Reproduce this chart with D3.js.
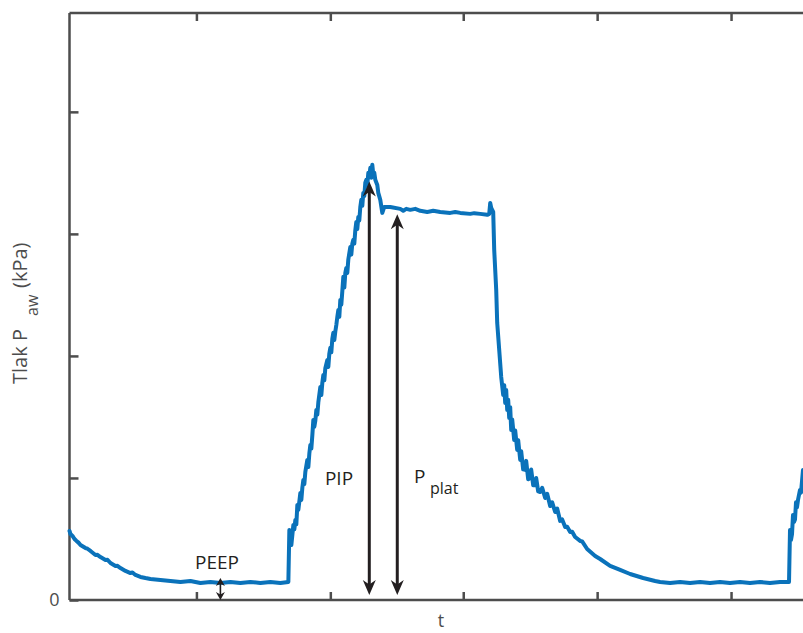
<!DOCTYPE html>
<html>
<head>
<meta charset="utf-8">
<script src="https://cdn.jsdelivr.net/npm/d3@7"></script>
<style>
  body { margin: 0; background: #fff; }
  svg { display: block; font-family: "Open Sans", "Noto Sans", sans-serif; }
</style>
</head>
<body>
<svg width="803" height="633"></svg>
<script>
// airway pressure trace, [sample, kPa]
var exhaleStart = [[0,0.566],[1,0.54],[3,0.525],[5,0.50],[7,0.484],[9,0.47],[11,0.451],[16,0.426],[18,0.42],[21,0.402],[26,0.369],[28,0.37],[31,0.352],[36,0.328],[38,0.33],[41,0.303],[46,0.279],[48,0.28],[51,0.262],[56,0.238],[61,0.221],[63,0.225],[66,0.205],[71,0.189],[76,0.180],[81,0.172],[91,0.164],[101,0.156],[111,0.148],[121,0.156],[131,0.139],[141,0.148],[151,0.139],[161,0.148],[171,0.139],[181,0.148],[191,0.139],[201,0.148],[211,0.139],[219,0.148]];
var inspiration = [[220,0.574],[221,0.492],[222,0.451],[224,0.615],[225,0.58],[226,0.656],[227,0.62],[228,0.779],[229,0.74],[231,0.877],[232,0.82],[233,0.92],[234,0.984],[235,0.95],[236,1.05],[238,1.148],[239,1.09],[240,1.20],[241,1.270],[242,1.24],[243,1.35],[244,1.475],[245,1.42],[246,1.47],[247,1.557],[248,1.52],[249,1.62],[251,1.746],[252,1.68],[253,1.78],[254,1.844],[255,1.80],[256,1.90],[258,1.967],[259,1.91],[260,2.02],[261,2.066],[262,2.03],[263,2.14],[264,2.189],[265,2.13],[266,2.20],[267,2.254],[268,2.32],[269,2.377],[270,2.32],[271,2.459],[272,2.42],[273,2.53],[274,2.648],[275,2.56],[276,2.68],[277,2.721],[278,2.68],[279,2.79],[281,2.893],[282,2.83],[283,2.92],[284,2.951],[285,2.92],[286,3.03],[287,3.098],[288,3.04],[289,3.139],[290,3.11],[291,3.22],[292,3.279],[293,3.23],[294,3.336],[295,3.31],[296,3.42],[297,3.443],[298,3.40],[299,3.500],[300,3.47],[301,3.541],[302,3.46],[303,3.566],[304,3.484],[305,3.50],[306,3.443],[308,3.40],[309,3.336],[311,3.279],[313,3.172]];
var plateau = [[315,3.221],[321,3.221],[331,3.205],[334,3.19],[337,3.205],[341,3.197],[346,3.205],[351,3.189],[358,3.180],[364,3.189],[371,3.180],[381,3.172],[386,3.18],[391,3.172],[401,3.164],[405,3.17],[411,3.164],[418,3.156],[420,3.164],[421,3.254],[422,3.213],[424,3.180]];
var exhalation = [[425,2.869],[427,2.541],[428,2.270],[430,2.049],[432,1.828],[434,1.680],[435,1.76],[436,1.615],[437,1.72],[438,1.557],[439,1.64],[440,1.492],[441,1.58],[442,1.393],[443,1.48],[445,1.311],[446,1.39],[448,1.230],[449,1.31],[451,1.148],[452,1.22],[454,1.07],[456,1.066],[457,1.14],[459,0.99],[461,1.000],[462,1.07],[464,0.94],[466,0.943],[467,1.00],[469,0.89],[471,0.885],[473,0.92],[476,0.836],[478,0.87],[481,0.770],[483,0.80],[486,0.721],[488,0.75],[491,0.648],[493,0.66],[496,0.598],[498,0.60],[501,0.557],[503,0.56],[506,0.516],[511,0.484],[513,0.48],[518,0.418],[526,0.361],[531,0.336],[541,0.279],[551,0.246],[561,0.213],[574,0.180],[586,0.156],[591,0.148],[601,0.139],[611,0.148],[621,0.139],[631,0.148],[641,0.139],[651,0.148],[661,0.139],[671,0.148],[681,0.139],[691,0.148],[701,0.139],[711,0.148],[720,0.148]];
var inspiration2 = [[721,0.574],[722,0.492],[723,0.54],[724,0.697],[725,0.64],[726,0.66],[727,0.80],[728,0.76],[729,0.820],[731,0.902],[732,0.88],[734,1.066]];

var xTicks = [127, 261, 394, 528, 662];
var yTicks = [0, 1, 2, 3, 4];
var yTickLabels = ["0", "", "", "", ""];

// arrows: sample, from kPa, to kPa
var arrowSample = [151, 300, 328];
var arrowFrom = [0, 0.04, 0.04];
var arrowTo = [0.18, 3.43, 3.16];

var svg = d3.select("svg");

var x = d3.scaleLinear().domain([0, 734]).range([69.5, 803]);
var y = d3.scaleLinear().domain([0, 4.81]).range([600, 13]);

var axisColor = "#4d4d4d";

// axes (box has no right side in view)
var gLeft = svg.append("g").attr("transform", "translate(69.5,0)")
	.call(d3.axisLeft(y).tickValues(yTicks).tickSizeInner(-9).tickSizeOuter(0).tickPadding(10)
		.tickFormat(function (d, i) { return yTickLabels[i]; }));
var gBottom = svg.append("g").attr("transform", "translate(0,600)")
	.call(d3.axisBottom(x).tickValues(xTicks).tickSizeInner(-8).tickSizeOuter(0).tickFormat(""));
var gTop = svg.append("g").attr("transform", "translate(0,13)")
	.call(d3.axisTop(x).tickValues(xTicks).tickSizeInner(-8).tickSizeOuter(0).tickFormat(""));

[gLeft, gBottom, gTop].forEach(function (g) {
	g.selectAll("path, line").attr("stroke", axisColor).attr("stroke-width", 2.5);
	g.selectAll("text").attr("fill", axisColor).style("font-size", "18px")
		.style("font-family", "'Open Sans', sans-serif");
});
gLeft.select("path").attr("d", "M0,600V13"); // left line
gBottom.select("path").attr("d", "M69.5,0H803");
gTop.select("path").attr("d", "M69.5,0H803");

// pressure trace
var trace = [].concat(exhaleStart, inspiration, plateau, exhalation, inspiration2);
var line = d3.line().x(function (d) { return x(d[0]); }).y(function (d) { return y(d[1]); });

svg.append("path")
	.datum(trace)
	.attr("d", line)
	.attr("fill", "none")
	.attr("stroke", "#0a72ba")
	.attr("stroke-width", 4)
	.attr("stroke-linejoin", "round")
	.attr("stroke-linecap", "round");

// double headed arrows
var arrowColor = "#231f20";
function head(cx, tipY, dir, len, half) {
	// dir = -1 pointing up, 1 pointing down
	var b = tipY - dir * len;
	var n = tipY - dir * len * 0.7;
	return "M" + cx + "," + tipY + "L" + (cx - half) + "," + b + "L" + cx + "," + n +
		"L" + (cx + half) + "," + b + "Z";
}
arrowSample.forEach(function (s, i) {
	var cx = x(s), y0 = y(arrowFrom[i]), y1 = y(arrowTo[i]);
	var small = i === 0;
	var len = small ? 8 : 15, half = small ? 4.5 : 6.5;
	svg.append("line")
		.attr("x1", cx).attr("x2", cx)
		.attr("y1", y0 - len * 0.6).attr("y2", y1 + len * 0.6)
		.attr("stroke", arrowColor).attr("stroke-width", small ? 1.6 : 3);
	svg.append("path").attr("d", head(cx, y1, -1, len, half)).attr("fill", arrowColor);
	svg.append("path").attr("d", head(cx, y0, 1, len, half)).attr("fill", arrowColor);
});

// annotation labels
svg.append("text").attr("x", 217).attr("y", 569).attr("text-anchor", "middle")
	.style("font-size", "19px").attr("fill", arrowColor).text("PEEP");
svg.append("text").attr("x", 339).attr("y", 485).attr("text-anchor", "middle")
	.style("font-size", "19px").attr("fill", arrowColor).text("PIP");
svg.append("text").attr("x", 414).attr("y", 483)
	.style("font-size", "19px").attr("fill", arrowColor).text("P");
svg.append("text").attr("x", 430).attr("y", 494)
	.style("font-size", "16px").attr("fill", arrowColor).text("plat");

// axis titles
svg.append("text").attr("x", 441).attr("y", 627).attr("text-anchor", "middle")
	.style("font-size", "18px").attr("fill", axisColor).text("t");

var yl = svg.append("g").attr("transform", "translate(27,384) rotate(-90)");
yl.append("text").attr("x", 0).attr("y", 0).style("font-size", "20px").attr("fill", axisColor).text("Tlak P");
yl.append("text").attr("x", 68).attr("y", 11).style("font-size", "16px").attr("fill", axisColor).text("aw");
yl.append("text").attr("x", 96).attr("y", 0).style("font-size", "20px").attr("fill", axisColor).text("(kPa)");
</script>
</body>
</html>
